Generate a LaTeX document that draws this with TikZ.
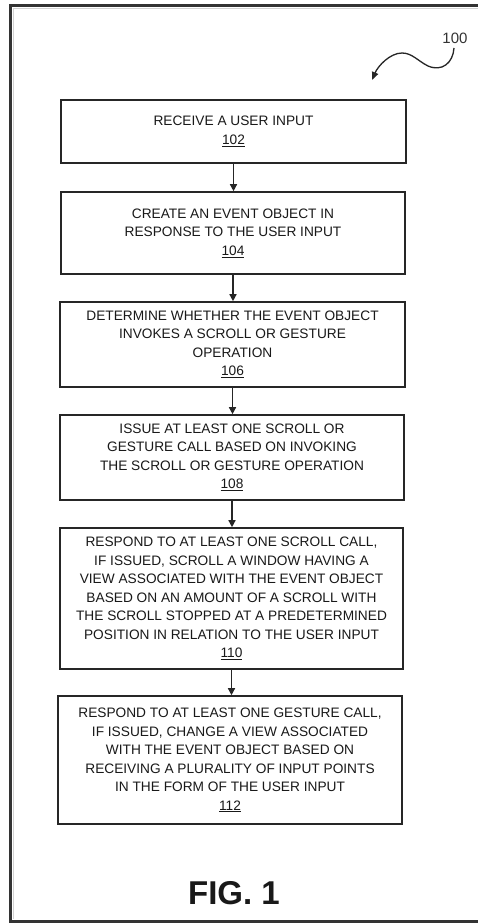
\documentclass[tikz,border=0pt]{standalone}
\usepackage{fontspec}
\setmainfont{Liberation Sans}
\usetikzlibrary{arrows.meta}
\begin{document}
\begin{tikzpicture}[x=1pt,y=1pt,
  stepbox/.style={draw=black!85, line width=1.6pt, inner sep=0pt, align=center,
    font=\fontsize{13.7}{18.5}\selectfont, text=black!90},
  flow/.style={draw=black!85, line width=1.4pt, -{Triangle[length=7pt,width=7pt]}},
  frame/.style={draw=black!80, line width=3.5pt}]
\useasboundingbox (0,0) rectangle (477,-923);
\fill[white] (0,0) rectangle (477,-923);
% outer frame (open to the right)
\draw[frame] (480,-5.5) -- (10.5,-5.5) -- (10.5,-922) -- (480,-922);
\draw[gray!35, line width=1pt] (480,-8.5) -- (13.8,-8.5) -- (13.8,-919);

% reference numeral with its wavy leader
\node[font=\fontsize{15}{17}\selectfont, text=black!80] (ref) at (455,-38) {100};
\coordinate (refend) at (372,-80);
\draw[line width=1.3pt, black!85, -{Triangle[length=8pt,width=6.5pt]}]
  (454,-48) .. controls (453,-63) and (442,-72) .. (428,-66)
  .. controls (418,-61) and (412,-53) .. (402,-53)
  .. controls (390,-53) and (378,-66) .. (refend);

% flowchart steps
\node[stepbox, minimum width=345pt, minimum height=63pt] (b1) at (233.5,-131.5)
  {RECEIVE A USER INPUT\\ \underline{102}};
\node[stepbox, minimum width=344pt, minimum height=82pt] (b2) at (233,-233)
  {CREATE AN EVENT OBJECT IN\\ RESPONSE TO THE USER INPUT\\ \underline{104}};
\node[stepbox, minimum width=345pt, minimum height=85pt] (b3) at (232.5,-344.5)
  {DETERMINE WHETHER THE EVENT OBJECT\\ INVOKES A SCROLL OR GESTURE\\ OPERATION\\ \underline{106}};
\node[stepbox, minimum width=344pt, minimum height=85pt] (b4) at (232,-457.5)
  {ISSUE AT LEAST ONE SCROLL OR\\ GESTURE CALL BASED ON INVOKING\\ THE SCROLL OR GESTURE OPERATION\\ \underline{108}};
\node[stepbox, minimum width=343pt, minimum height=141pt] (b5) at (231.5,-598.5)
  {RESPOND TO AT LEAST ONE SCROLL CALL,\\ IF ISSUED, SCROLL A WINDOW HAVING A\\ VIEW ASSOCIATED WITH THE EVENT OBJECT\\ BASED ON AN AMOUNT OF A SCROLL WITH\\ THE SCROLL STOPPED AT A PREDETERMINED\\ POSITION IN RELATION TO THE USER INPUT\\ \underline{110}};
\node[stepbox, minimum width=344pt, minimum height=128pt] (b6) at (230,-760)
  {RESPOND TO AT LEAST ONE GESTURE CALL,\\ IF ISSUED, CHANGE A VIEW ASSOCIATED\\ WITH THE EVENT OBJECT BASED ON\\ RECEIVING A PLURALITY OF INPUT POINTS\\ IN THE FORM OF THE USER INPUT\\ \underline{112}};

% vertical connectors between consecutive steps
\draw[flow] (b1.south) -- (b1.south |- b2.north);
\draw[flow] (b2.south) -- (b2.south |- b3.north);
\draw[flow] (b3.south) -- (b3.south |- b4.north);
\draw[flow] (b4.south) -- (b4.south |- b5.north);
\draw[flow] (b5.south) -- (b5.south |- b6.north);

% figure caption
\node[font=\fontsize{33}{36}\bfseries, text=black!90] (fig) at (234,-893) {FIG. 1};
\end{tikzpicture}
\end{document}
